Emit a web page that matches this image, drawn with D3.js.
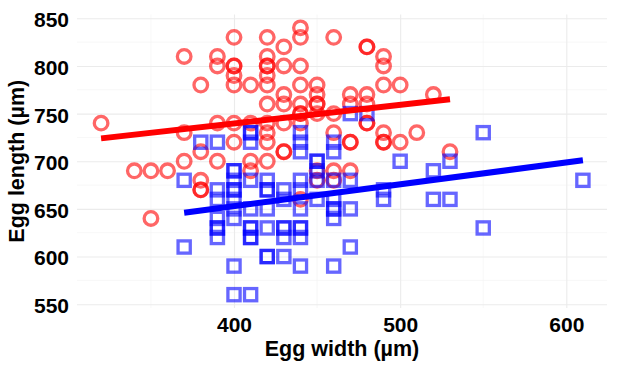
<!DOCTYPE html>
<html>
<head>
<meta charset="utf-8">
<script src="https://cdn.jsdelivr.net/npm/d3@7"></script>
<style>
  body { margin: 0; background: #fff; }
  text { font-family: "Liberation Sans", Arial, sans-serif; font-weight: bold; fill: #000; }
</style>
</head>
<body>
<div id="Vis"></div>
<script>
// red group (circles): egg width / egg length
var redWidth  = [320, 340, 350, 350, 360,
  370, 370, 370, 380, 380, 380, 380, 380,
  390, 390, 390, 390,
  400, 400, 400, 400, 400, 400, 400,
  410, 410, 410, 410,
  420, 420, 420, 420, 420, 420, 420, 420, 420, 420, 420,
  430, 430, 430, 430, 430, 430, 430,
  440, 440, 440, 440, 440, 440, 440, 440, 440,
  450, 450, 450, 450, 450, 450, 450,
  460, 460, 460, 460, 460,
  470, 470, 470, 470, 470,
  480, 480, 480, 480, 480, 480,
  490, 490, 490, 490, 490, 490,
  500, 500, 510, 520, 530];
var redLength = [740, 690, 690, 640, 690,
  810, 730, 700, 780, 710, 680, 670, 670,
  810, 800, 740, 700,
  830, 800, 800, 790, 780, 740, 720,
  780, 740, 700, 690,
  830, 810, 800, 800, 790, 780, 760, 740, 730, 720, 700,
  820, 800, 770, 760, 740, 710, 710,
  840, 830, 800, 780, 760, 750, 750, 740, 660,
  780, 770, 760, 760, 750, 690, 680,
  830, 750, 730, 690, 680,
  770, 760, 720, 720, 690,
  820, 820, 770, 760, 740, 740,
  810, 800, 780, 730, 720, 720,
  780, 720, 730, 770, 710];

// blue group (squares)
var blueWidth  = [370, 370, 380,
  390, 390, 390, 390, 390, 390, 390,
  400, 400, 400, 400, 400, 400, 400, 400, 400, 400,
  410, 410, 410, 410, 410, 410, 410, 410, 410, 410,
  420, 420, 420, 420, 420, 420, 420,
  430, 430, 430, 430, 430, 430,
  440, 440, 440, 440, 440, 440, 440, 440, 440, 440,
  450, 450, 450, 450, 450,
  460, 460, 460, 460, 460, 460, 460, 460,
  470, 470, 470, 470, 480, 490, 490, 500,
  520, 520, 530, 530, 550, 550, 610];
var blueLength = [680, 610, 720,
  720, 670, 660, 640, 630, 630, 620,
  690, 690, 680, 670, 670, 660, 650, 640, 590, 560,
  730, 730, 720, 680, 650, 630, 630, 620, 620, 560,
  680, 670, 670, 650, 630, 600, 600,
  670, 660, 630, 630, 620, 600,
  730, 720, 710, 680, 670, 650, 630, 630, 620, 590,
  700, 700, 690, 680, 660,
  720, 710, 680, 660, 650, 650, 640, 590,
  750, 680, 650, 610, 750, 670, 660, 700,
  690, 660, 700, 660, 730, 630, 680];

// fitted lines (start / end)
var redFitWidth  = [320, 530];
var redFitLength = [724, 765];
var blueFitWidth  = [370, 610];
var blueFitLength = [646, 701];

var xTicks = [400, 500, 600];
var yTicks = [550, 600, 650, 700, 750, 800, 850];

// set the dimensions and margins of the graph
var margin = {top: 14.5, right: 10, bottom: 62, left: 77},
    width = 617 - margin.left - margin.right,
    height = 370 - margin.top - margin.bottom;

var svg = d3.select("#Vis")
  .append("svg")
    .attr("width", 617)
    .attr("height", 370)
  .append("g")
    .attr("transform", "translate(" + margin.left + "," + margin.top + ")");

var x = d3.scaleLinear().domain([305.5, 624.5]).range([0, width]);
var y = d3.scaleLinear().domain([546, 854]).range([height, 0]);

// grid: minor lines first, then major
var xMinor = [350, 450, 550];
var yMinor = [575, 625, 675, 725, 775, 825];
svg.selectAll(".xminor").data(xMinor).enter().append("line")
  .attr("x1", function(d) { return x(d); }).attr("x2", function(d) { return x(d); })
  .attr("y1", 0).attr("y2", height)
  .attr("stroke", "#f2f2f2").attr("stroke-width", 0.6);
svg.selectAll(".yminor").data(yMinor).enter().append("line")
  .attr("y1", function(d) { return y(d); }).attr("y2", function(d) { return y(d); })
  .attr("x1", 0).attr("x2", width)
  .attr("stroke", "#f2f2f2").attr("stroke-width", 0.6);

// x axis: full-height grid lines, labels just under the panel
var xAxis = svg.append("g")
  .attr("transform", "translate(0," + height + ")")
  .call(d3.axisBottom(x).tickValues(xTicks).tickSize(0));
xAxis.select(".domain").remove();
xAxis.selectAll(".tick line")
  .attr("y1", -height).attr("y2", 0)
  .attr("stroke", "#ebebeb").attr("stroke-width", 1.1);
xAxis.selectAll("text").attr("font-size", "21px").attr("y", 9).attr("dy", "0.71em");

var yAxis = svg.append("g")
  .call(d3.axisLeft(y).tickValues(yTicks).tickSize(-width).tickPadding(8));
yAxis.select(".domain").remove();
yAxis.selectAll(".tick line").attr("stroke", "#ebebeb").attr("stroke-width", 1.1);
yAxis.selectAll("text").attr("font-size", "21px").attr("x", -8).attr("dy", "0.4em");

// points
var red = redWidth.map(function(w, i) { return {w: w, l: redLength[i]}; });
var blue = blueWidth.map(function(w, i) { return {w: w, l: blueLength[i]}; });

svg.append("g").selectAll("circle").data(red).enter().append("circle")
  .attr("cx", function(d) { return x(d.w); })
  .attr("cy", function(d) { return y(d.l); })
  .attr("r", 6.8)
  .attr("fill", "none")
  .attr("stroke", "#ff0000")
  .attr("stroke-opacity", 0.6)
  .attr("stroke-width", 3.3);

var s = 12.2;
svg.append("g").selectAll("rect").data(blue).enter().append("rect")
  .attr("x", function(d) { return x(d.w) - s / 2; })
  .attr("y", function(d) { return y(d.l) - s / 2; })
  .attr("width", s).attr("height", s)
  .attr("fill", "none")
  .attr("stroke", "#0000ff")
  .attr("stroke-opacity", 0.6)
  .attr("stroke-width", 3.3);

// fitted lines
var line = d3.line().x(function(d) { return x(d[0]); }).y(function(d) { return y(d[1]); });
svg.append("path")
  .datum(redFitWidth.map(function(w, i) { return [w, redFitLength[i]]; }))
  .attr("d", line).attr("fill", "none")
  .attr("stroke", "#ff0000").attr("stroke-width", 6);
svg.append("path")
  .datum(blueFitWidth.map(function(w, i) { return [w, blueFitLength[i]]; }))
  .attr("d", line).attr("fill", "none")
  .attr("stroke", "#0000ff").attr("stroke-width", 6);

// axis titles
svg.append("text")
  .attr("x", width / 2)
  .attr("y", height + 48)
  .attr("text-anchor", "middle")
  .attr("font-size", "21.5px")
  .text("Egg width (µm)");

svg.append("text")
  .attr("transform", "translate(" + (-53) + "," + (height / 2) + ") rotate(-90)")
  .attr("text-anchor", "middle")
  .attr("font-size", "21.5px")
  .text("Egg length (µm)");
</script>
</body>
</html>
